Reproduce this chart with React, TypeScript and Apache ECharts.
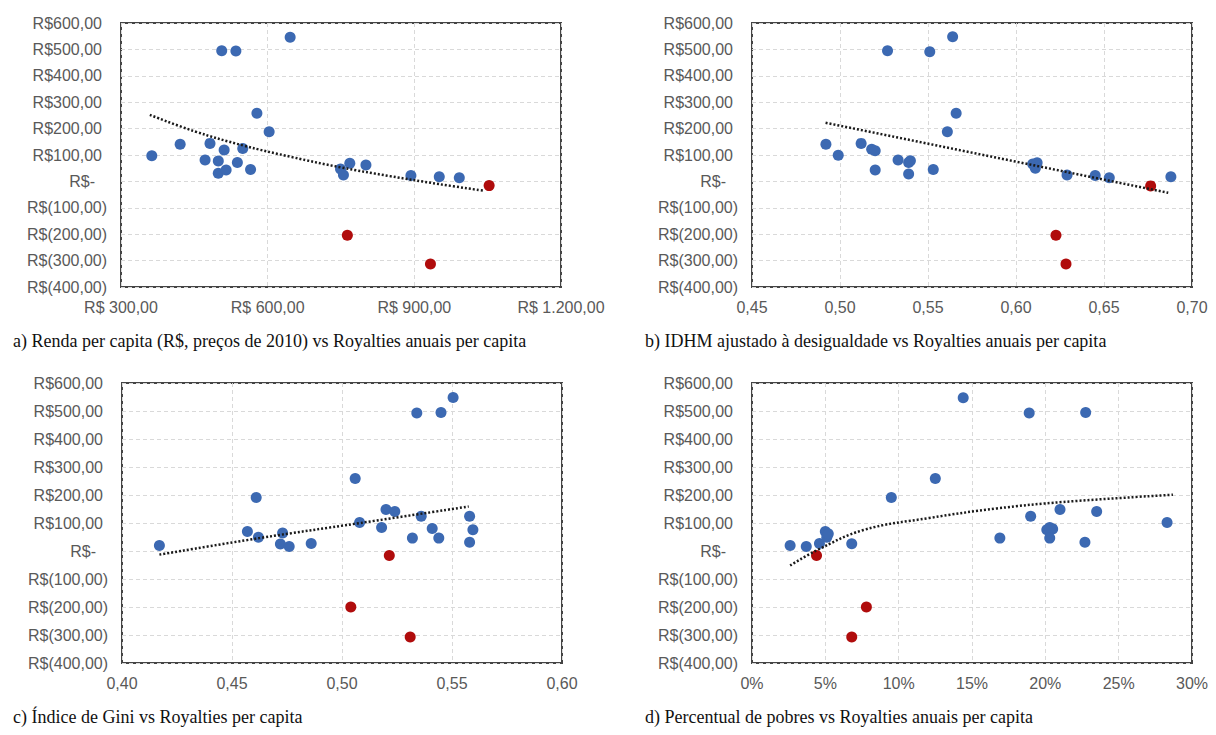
import React, { useEffect, useRef } from "react";
import * as echarts from "echarts";

// Panel a: Renda per capita (R$) vs Royalties per capita
const rendaBlue: number[][] = [
  [363, 97], [421, 141], [482, 144], [506, 495], [535, 494], [646, 546], [578, 258], [603, 188],
  [511, 119], [549, 125], [472, 81], [499, 77], [538, 72], [499, 31], [515, 43], [565, 45],
  [749, 47], [755, 24], [768, 69], [801, 62], [893, 22], [951, 18], [992, 14],
];
const rendaRed: number[][] = [[763, -204], [933, -313], [1053, -16]];
const rendaTrend: number[][] = [
  [359, 252], [450, 190], [550, 136], [650, 92], [750, 53], [850, 20], [950, -10], [1041, -35],
];

// Panel b: IDHM ajustado vs Royalties
const idhmBlue: number[][] = [
  [0.492, 141], [0.499, 99], [0.512, 144], [0.518, 122], [0.52, 116], [0.52, 43], [0.527, 495],
  [0.533, 81], [0.539, 72], [0.54, 78], [0.539, 28], [0.551, 491], [0.553, 45], [0.564, 548],
  [0.561, 188], [0.566, 258], [0.6095, 66], [0.612, 71], [0.611, 50], [0.629, 24], [0.645, 22],
  [0.653, 14], [0.688, 18],
];
const idhmRed: number[][] = [[0.6765, -17], [0.6227, -204], [0.6284, -313]];
const idhmTrend: number[][] = [[0.4918, 222], [0.6865, -43]];

// Panel c: Gini vs Royalties
const giniBlue: number[][] = [
  [0.417, 20], [0.457, 70], [0.461, 191], [0.462, 49], [0.473, 64], [0.472, 25], [0.476, 16],
  [0.486, 27], [0.506, 259], [0.508, 102], [0.518, 84], [0.52, 148], [0.524, 141], [0.532, 46],
  [0.534, 493], [0.536, 124], [0.541, 80], [0.545, 495], [0.544, 46], [0.5505, 548], [0.558, 124],
  [0.5595, 76], [0.558, 31],
];
const giniRed: number[][] = [[0.5215, -16], [0.504, -200], [0.531, -307]];
const giniTrend: number[][] = [[0.417, -13], [0.4624, 46], [0.5083, 100], [0.5576, 159]];

// Panel d: Percentual de pobres (%) vs Royalties
const pobresBlue: number[][] = [
  [2.6, 20], [3.7, 16], [4.6, 27], [5.0, 70], [5.1, 49], [5.2, 62], [6.8, 26], [9.5, 191],
  [12.5, 259], [14.4, 547], [16.9, 46], [18.9, 493], [19.0, 124], [20.1, 76], [20.5, 79],
  [20.3, 46], [20.3, 84], [21.0, 148], [22.75, 495], [22.7, 31], [23.5, 141], [28.3, 102],
];
const pobresRed: number[][] = [[4.4, -16], [7.8, -200], [6.8, -307]];
const pobresTrend: number[][] = [
  [2.6, -52], [4.4, 2], [7.6, 75], [12.1, 118], [16.7, 152], [21.2, 175], [28.7, 201],
];

const captions = [
  "a) Renda per capita (R$, preços de 2010) vs Royalties anuais per capita",
  "b) IDHM ajustado à desigualdade vs Royalties anuais per capita",
  "c) Índice de Gini vs Royalties per capita",
  "d) Percentual de pobres vs Royalties anuais per capita",
];

const Y_MIN = -400;
const Y_MAX = 600;
const Y_STEP = 100;

const LABEL_COLOR = "#595959";
const LABEL_FONT = "Liberation Sans";
const BLUE = "#3c69b2";
const RED = "#b00c0c";

const fmtY = (v: number) => {
  if (v === 0) return "{z|R$-}";
  if (v < 0) return `{n|R$(${Math.abs(v)},00)}`;
  return `{p|R$${v},00}`;
};
const fmtMoney = (v: number) => {
  const s = Math.round(v).toString().replace(/\B(?=(\d{3})+(?!\d))/g, ".");
  return `R$ ${s},00`;
};
const fmtDec = (v: number) => v.toFixed(2).replace(".", ",");
const fmtPct = (v: number) => `${Math.round(v)}%`;

export default function App() {
  const ref = useRef<HTMLDivElement>(null);
  useEffect(() => {
    if (!ref.current) return;
    const chart = echarts.init(ref.current, undefined, { renderer: "svg" });

    const grids = [
      { left: 121, top: 23, width: 440, height: 264 },
      { left: 752, top: 23, width: 440, height: 264 },
      { left: 122, top: 383, width: 440, height: 280 },
      { left: 752, top: 383, width: 440, height: 280 },
    ].map((g) => ({
      ...g,
      show: true,
      borderColor: "#444444",
      borderWidth: 2,
      backgroundColor: "transparent",
    }));

    const baseText = { fontSize: 16, color: LABEL_COLOR, fontFamily: LABEL_FONT };
    const splitLine = { show: true, lineStyle: { color: "#d9d9d9", type: [4, 3] as any, width: 1 } };

    const xDefs = [
      { min: 300, max: 1200, interval: 300, fmt: fmtMoney },
      { min: 0.45, max: 0.7, interval: 0.05, fmt: fmtDec },
      { min: 0.4, max: 0.6, interval: 0.05, fmt: fmtDec },
      { min: 0, max: 30, interval: 5, fmt: fmtPct },
    ];

    const xAxis = xDefs.map((d, i) => ({
      type: "value",
      gridIndex: i,
      min: d.min,
      max: d.max,
      interval: d.interval,
      axisLine: { show: false },
      axisTick: { show: false },
      splitLine,
      axisLabel: {
        ...baseText,
        margin: 12,
        showMinLabel: true,
        showMaxLabel: true,
        formatter: d.fmt,
      },
    }));

    const yAxis = [0, 1, 2, 3].map((i) => ({
      type: "value",
      gridIndex: i,
      min: Y_MIN,
      max: Y_MAX,
      interval: Y_STEP,
      axisLine: { show: false },
      axisTick: { show: false },
      splitLine,
      axisLabel: {
        ...baseText,
        margin: 14,
        formatter: fmtY,
        rich: {
          p: { ...baseText, padding: [0, 5, 0, 0] },
          n: { ...baseText },
          z: { ...baseText, padding: [0, 12, 0, 0] },
        },
      },
    }));

    const panels = [
      [rendaBlue, rendaRed, rendaTrend],
      [idhmBlue, idhmRed, idhmTrend],
      [giniBlue, giniRed, giniTrend],
      [pobresBlue, pobresRed, pobresTrend],
    ];

    const series: any[] = [];
    panels.forEach(([blue, red, trend], i) => {
      series.push({
        type: "scatter",
        xAxisIndex: i,
        yAxisIndex: i,
        data: blue,
        symbolSize: 11,
        itemStyle: { color: BLUE, opacity: 1 },
        z: 2,
      });
      series.push({
        type: "scatter",
        xAxisIndex: i,
        yAxisIndex: i,
        data: red,
        symbolSize: 11,
        itemStyle: { color: RED, opacity: 1 },
        z: 2,
      });
      series.push({
        type: "line",
        xAxisIndex: i,
        yAxisIndex: i,
        data: trend,
        smooth: trend.length > 2 ? 0.4 : false,
        showSymbol: false,
        symbol: "none",
        lineStyle: { color: "#1a1a1a", width: 2.5, type: [2, 2] },
        z: 3,
      });
    });

    const capPos = [
      [13, 341],
      [645, 341],
      [13, 717],
      [645, 717],
    ];
    const graphic = captions.map((c, i) => ({
      type: "text",
      x: capPos[i][0],
      y: capPos[i][1],
      style: {
        text: c,
        fontFamily: "Liberation Serif",
        fontSize: 18,
        fill: "#111",
        textVerticalAlign: "middle",
        verticalAlign: "middle",
      },
    }));

    chart.setOption({
      animation: false,
      backgroundColor: "#ffffff",
      grid: grids,
      xAxis,
      yAxis,
      series,
      graphic,
    });

    return () => chart.dispose();
  }, []);

  return (
    <div
      ref={ref}
      style={{ position: "fixed", left: 0, top: 0, width: 1216, height: 735 }}
    />
  );
}
